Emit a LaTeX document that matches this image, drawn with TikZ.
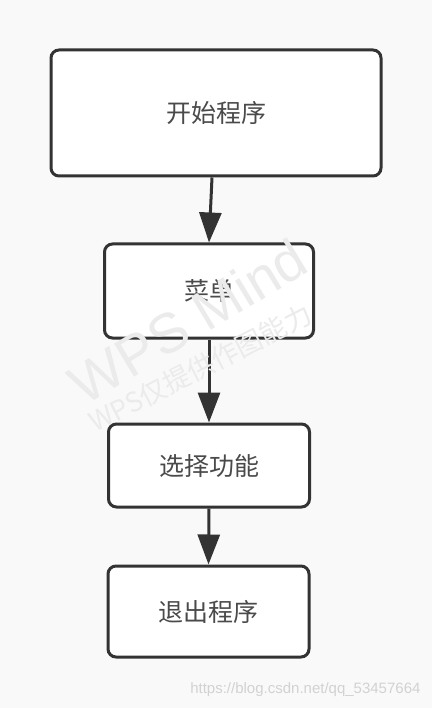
\documentclass[tikz,border=0pt]{standalone}
\usepackage{fontspec}
\usetikzlibrary{arrows.meta}
\newfontfamily\cjk{Noto Sans CJK SC}
\newfontfamily\wmfont{Liberation Sans}
\definecolor{bgc}{HTML}{F9F9F9}
\definecolor{linec}{HTML}{333333}
\definecolor{txtc}{HTML}{4A4A4A}
\definecolor{wmc}{HTML}{EBEBEB}
\definecolor{urlc}{HTML}{D2D2D2}
\begin{document}
\begin{tikzpicture}[x=1pt,y=-1pt,
  box/.style={draw=linec, line width=3pt, fill=white, rounded corners=8pt,
    inner sep=0pt, text=txtc, font=\cjk\fontsize{25}{25}\selectfont},
  arr/.style={draw=linec, line width=3pt,
    -{Triangle[length=30pt,width=22pt]}},
  wmark/.style={text=wmc, inner sep=0pt}]
\fill[bgc] (0,0) rectangle (432,708);
\useasboundingbox (0,0) rectangle (432,708);
\node[box, minimum width=330pt, minimum height=126pt] (b1) at (216,113) {开始程序};
\node[box, minimum width=209pt, minimum height=94pt] (b2) at (209,291) {菜单};
\node[box, minimum width=201pt, minimum height=83pt] (b3) at (209,465.5) {选择功能};
\node[box, minimum width=201pt, minimum height=91pt] (b4) at (208.5,611.5) {退出程序};
\draw[arr] ([xshift=-4pt]b1.south) -- (b2.north);
\draw[arr] (b2.south) -- (b3.north);
\draw[arr] (b3.south) -- (b4.north);
\node[wmark, rotate=31, font=\wmfont\fontsize{56}{56}\selectfont] (wm1) at (188,321) {WPS Mind};
\node[wmark, rotate=27, font=\cjk\fontsize{27}{27}\selectfont] (wm2) at (200,368) {WPS仅提供作图能力};
\node[text=urlc, font=\wmfont\fontsize{15}{15}\selectfont, anchor=east] (url) at (424,690) {https://blog.csdn.net/qq\_53457664};
\end{tikzpicture}
\end{document}
